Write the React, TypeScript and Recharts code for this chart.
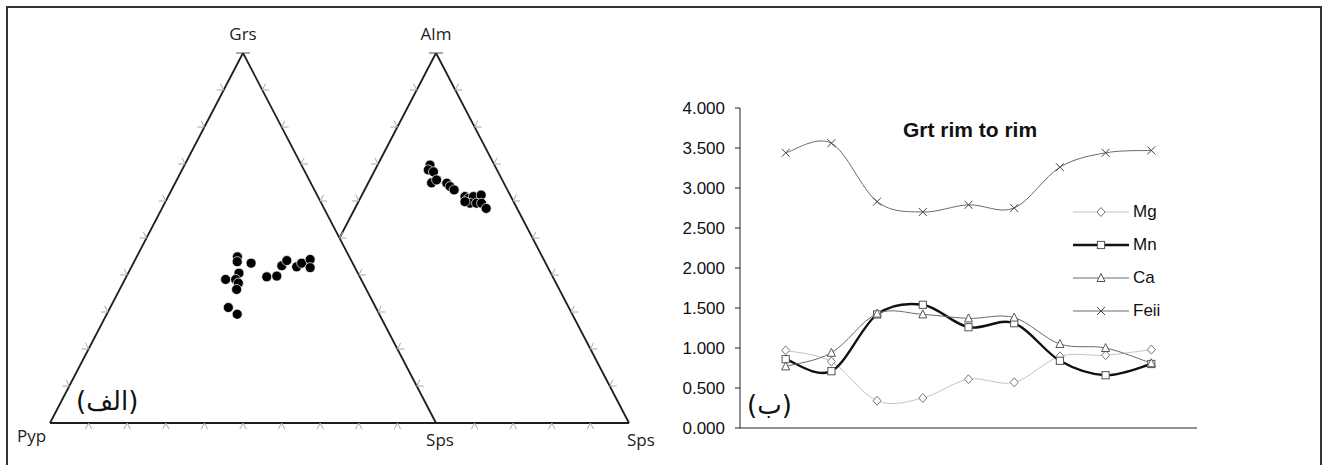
import React from 'react';
import {
  ScatterChart,
  Scatter,
  XAxis,
  YAxis,
  ReferenceLine,
  LineChart,
  Line,
} from 'recharts';

// left diagram: Grs (top) - Pyp (bottom left) - Sps (bottom right), mol %
const grsLeft = [44.9, 43.6, 43.2, 40.5, 38.8, 38.8, 37.8, 36.1, 31.2, 29.4, 39.5, 39.7, 42.5, 43.9, 42.2, 43.2, 44.2, 42.0];
const spsLeft = [26.1, 26.7, 30.5, 28.7, 26.1, 28.7, 29.9, 30.3, 30.6, 33.8, 36.4, 38.9, 38.8, 39.4, 42.8, 43.6, 45.3, 46.4];
const pypLeft = [29.0, 29.7, 26.3, 30.8, 35.1, 32.5, 32.3, 33.6, 38.2, 36.8, 24.1, 21.4, 18.7, 16.7, 15.0, 13.2, 10.5, 11.6];

// right diagram: Alm (top) - Sps (bottom right), third corner hidden
const almRight = [69.7, 68.4, 67.9, 64.9, 65.7, 64.8, 63.9, 63.0, 61.2, 60.7, 61.2, 61.6, 59.4, 59.4, 59.4, 58.0, 59.8];
const spsRight = [13.6, 13.8, 15.4, 16.4, 17.3, 20.4, 21.7, 23.2, 26.9, 28.1, 29.1, 30.9, 29.1, 30.8, 32.1, 34.0, 27.6];
const restRight = [16.7, 17.8, 16.7, 18.7, 17.0, 14.8, 14.4, 13.8, 11.9, 11.2, 9.7, 7.5, 11.5, 9.8, 8.5, 8.0, 12.6];

const tickFractions = [0.1, 0.2, 0.3, 0.4, 0.5, 0.6, 0.7, 0.8, 0.9];

// rim to rim profile
const spots = [1, 2, 3, 4, 5, 6, 7, 8, 9];
const mg = [0.97, 0.83, 0.34, 0.375, 0.61, 0.57, 0.895, 0.91, 0.98];
const mn = [0.86, 0.71, 1.42, 1.54, 1.26, 1.31, 0.84, 0.66, 0.8];
const ca = [0.77, 0.94, 1.43, 1.42, 1.37, 1.38, 1.05, 1.0, 0.81];
const feii = [3.44, 3.56, 2.83, 2.7, 2.79, 2.75, 3.26, 3.44, 3.47];
const yTicks = [0, 0.5, 1, 1.5, 2, 2.5, 3, 3.5, 4];
const xTicks = [0, 2, 4, 6, 8, 10];

const labelFont = '"Open Sans", "Liberation Sans", sans-serif';
const chartFont = '"Liberation Sans", Arial, sans-serif';

const leftPoints = grsLeft.map((g, i) => {
  const sum = g + spsLeft[i] + pypLeft[i];
  return { x: (spsLeft[i] + 0.5 * g) / sum, y: g / sum };
});

const rightPoints = almRight.map((a, i) => {
  const sum = a + spsRight[i] + restRight[i];
  return { x: 0.5 + (spsRight[i] + 0.5 * a) / sum, y: a / sum };
});

const tickMarks = [
  ...tickFractions.map((f) => ({ x: f, y: 0, kind: 'base' })),
  ...tickFractions.filter((f) => f > 0.5).map((f) => ({ x: 0.5 + f, y: 0, kind: 'base' })),
  ...tickFractions.map((f) => ({ x: 0.5 * f, y: f, kind: 'left' })),
  ...tickFractions.map((f) => ({ x: 1 - 0.5 * f, y: f, kind: 'right' })),
  ...tickFractions.filter((f) => f > 0.5).map((f) => ({ x: 0.5 + 0.5 * f, y: f, kind: 'left' })),
  ...tickFractions.map((f) => ({ x: 1.5 - 0.5 * f, y: f, kind: 'right' })),
  { x: 0.5, y: 1, kind: 'apex' },
  { x: 1, y: 1, kind: 'apex' },
];

const lineData = spots.map((s, i) => ({ spot: s, Mg: mg[i], Mn: mn[i], Ca: ca[i], Feii: feii[i] }));

// uniform Catmull-Rom, close to Excel's smoothed line
const smoothCurve = (context: any) => {
  let pts: number[][] = [];
  return {
    areaStart() {},
    areaEnd() {},
    lineStart() {
      pts = [];
    },
    point(x: number, y: number) {
      pts.push([+x, +y]);
    },
    lineEnd() {
      if (!pts.length) return;
      context.moveTo(pts[0][0], pts[0][1]);
      for (let i = 0; i < pts.length - 1; i++) {
        const p0 = pts[Math.max(i - 1, 0)];
        const p1 = pts[i];
        const p2 = pts[i + 1];
        const p3 = pts[Math.min(i + 2, pts.length - 1)];
        context.bezierCurveTo(
          p1[0] + (p2[0] - p0[0]) / 6,
          p1[1] + (p2[1] - p0[1]) / 6,
          p2[0] - (p3[0] - p1[0]) / 6,
          p2[1] - (p3[1] - p1[1]) / 6,
          p2[0],
          p2[1]
        );
      }
    },
  };
};

const TickMark = (props: any) => {
  const { cx, cy, payload } = props;
  const L = 7;
  const sx = 0.4625 * L;
  const sy = 0.8866 * L;
  let d = '';
  if (payload.kind === 'base') d = `M${cx - sx},${cy + sy}L${cx},${cy}L${cx + sx},${cy + sy}`;
  if (payload.kind === 'left') d = `M${cx - L},${cy}L${cx},${cy}L${cx - sx},${cy - sy}`;
  if (payload.kind === 'right') d = `M${cx + L},${cy}L${cx},${cy}L${cx + sx},${cy - sy}`;
  if (payload.kind === 'apex') d = `M${cx - L},${cy}L${cx + L},${cy}`;
  return <path d={d} fill="none" stroke={payload.kind === 'apex' ? '#555' : '#a8a8a8'} strokeWidth={1} />;
};

const Dot = (props: any) => {
  const { cx, cy } = props;
  return <circle cx={cx} cy={cy} r={5} fill="#000" stroke="#fff" strokeWidth={0.7} />;
};

const markerShape = (kind: string, cx: number, cy: number, color: string) => {
  if (kind === 'diamond')
    return <path d={`M${cx},${cy - 4.5}L${cx + 4},${cy}L${cx},${cy + 4.5}L${cx - 4},${cy}Z`} fill="#fff" stroke={color} strokeWidth={1} />;
  if (kind === 'square')
    return <rect x={cx - 3.6} y={cy - 3.6} width={7.2} height={7.2} fill="#fff" stroke={color} strokeWidth={1} />;
  if (kind === 'triangle')
    return <path d={`M${cx},${cy - 4.5}L${cx + 4},${cy + 3.5}L${cx - 4},${cy + 3.5}Z`} fill="#fff" stroke={color} strokeWidth={1} />;
  return (
    <path d={`M${cx - 4},${cy - 4}L${cx + 4},${cy + 4}M${cx + 4},${cy - 4}L${cx - 4},${cy + 4}`} stroke={color} strokeWidth={1} />
  );
};

const seriesStyle = [
  { key: 'Mg', marker: 'diamond', stroke: '#c4c4c4', width: 1, markerColor: '#777' },
  { key: 'Mn', marker: 'square', stroke: '#111', width: 2.4, markerColor: '#555' },
  { key: 'Ca', marker: 'triangle', stroke: '#6a6a6a', width: 1, markerColor: '#555' },
  { key: 'Feii', marker: 'cross', stroke: '#6a6a6a', width: 1, markerColor: '#444' },
];

const text = (style: React.CSSProperties): React.CSSProperties => ({
  position: 'absolute',
  whiteSpace: 'nowrap',
  lineHeight: 1,
  ...style,
});

export default function App() {
  return (
    <div style={{ position: 'absolute', left: 0, top: 0, width: 1324, height: 465, overflow: 'hidden', background: '#fff' }}>
      <div
        style={{
          position: 'absolute',
          left: 6,
          top: 6,
          width: 1312,
          height: 470,
          borderLeft: '2px solid #333',
          borderTop: '2px solid #333',
          borderRight: '2px solid #333',
        }}
      />

      <div style={{ position: 'absolute', left: 0, top: 0 }}>
        <ScatterChart width={660} height={465} margin={{ top: 0, right: 0, bottom: 0, left: 0 }}>
          <XAxis type="number" dataKey="x" hide domain={[-50 / 386, 610 / 386]} allowDataOverflow />
          <YAxis type="number" dataKey="y" hide domain={[-42 / 370, 423 / 370]} allowDataOverflow />
          <ReferenceLine segment={[{ x: 0, y: 0 }, { x: 1.5, y: 0 }]} stroke="#1e1e1e" strokeWidth={1.8} ifOverflow="visible" />
          <ReferenceLine segment={[{ x: 0, y: 0 }, { x: 0.5, y: 1 }]} stroke="#1e1e1e" strokeWidth={1.8} ifOverflow="visible" />
          <ReferenceLine segment={[{ x: 0.5, y: 1 }, { x: 1, y: 0 }]} stroke="#1e1e1e" strokeWidth={1.8} ifOverflow="visible" />
          <ReferenceLine segment={[{ x: 0.75, y: 0.5 }, { x: 1, y: 1 }]} stroke="#1e1e1e" strokeWidth={1.8} ifOverflow="visible" />
          <ReferenceLine segment={[{ x: 1, y: 1 }, { x: 1.5, y: 0 }]} stroke="#1e1e1e" strokeWidth={1.8} ifOverflow="visible" />
          <Scatter data={tickMarks} shape={TickMark} isAnimationActive={false} />
          <Scatter data={leftPoints} shape={Dot} isAnimationActive={false} />
          <Scatter data={rightPoints} shape={Dot} isAnimationActive={false} />
        </ScatterChart>
      </div>

      <div style={text({ left: 243, top: 25, transform: 'translateX(-50%)', fontFamily: labelFont, fontSize: 17, color: '#222' })}>Grs</div>
      <div style={text({ left: 436, top: 25, transform: 'translateX(-50%)', fontFamily: labelFont, fontSize: 17, color: '#222' })}>Alm</div>
      <div style={text({ left: 17, top: 427, fontFamily: labelFont, fontSize: 17, color: '#222' })}>Pyp</div>
      <div style={text({ left: 440, top: 431, transform: 'translateX(-50%)', fontFamily: labelFont, fontSize: 17, color: '#222' })}>Sps</div>
      <div style={text({ left: 627, top: 431, fontFamily: labelFont, fontSize: 17, color: '#222' })}>Sps</div>
      <div style={text({ left: 76, top: 388, fontFamily: '"DejaVu Sans", sans-serif', fontSize: 26, color: '#111' })}>(الف)</div>

      <div style={{ position: 'absolute', left: 660, top: 0 }}>
        <LineChart width={664} height={465} data={lineData} margin={{ top: 108, right: 127, bottom: 27, left: 20 }}>
          <XAxis
            dataKey="spot"
            type="number"
            domain={[0, 10]}
            ticks={xTicks}
            tick={false}
            tickSize={5}
            height={10}
            axisLine={{ stroke: '#222' }}
            tickLine={{ stroke: '#222' }}
          />
          <YAxis
            type="number"
            domain={[0, 4]}
            ticks={yTicks}
            interval={0}
            width={60}
            tickSize={5}
            tickMargin={10}
            tickFormatter={(v: number) => v.toFixed(3)}
            tick={{ fill: '#111', fontSize: 17, fontFamily: chartFont }}
            axisLine={{ stroke: '#222' }}
            tickLine={{ stroke: '#222' }}
          />
          {seriesStyle.map((s) => (
            <Line
              key={s.key}
              dataKey={s.key}
              type={smoothCurve as any}
              stroke={s.stroke}
              strokeWidth={s.width}
              dot={(p: any) => <g key={`${s.key}-${p.index}`}>{markerShape(s.marker, p.cx, p.cy, s.markerColor)}</g>}
              activeDot={false}
              isAnimationActive={false}
            />
          ))}
        </LineChart>
      </div>

      <div style={{ position: 'absolute', left: 1073, top: 195 }}>
        {seriesStyle.map((s) => (
          <div key={s.key} style={{ display: 'flex', alignItems: 'center', height: 33 }}>
            <svg width={56} height={14}>
              <line x1={0} y1={7} x2={56} y2={7} stroke={s.stroke} strokeWidth={s.width} />
              {markerShape(s.marker, 28, 7, s.markerColor)}
            </svg>
            <span style={{ marginLeft: 4, fontFamily: chartFont, fontSize: 17, color: '#111' }}>{s.key}</span>
          </div>
        ))}
      </div>

      <div style={text({ left: 970, top: 119, transform: 'translateX(-50%)', fontFamily: chartFont, fontWeight: 'bold', fontSize: 21, color: '#111' })}>
        Grt rim to rim
      </div>
      <div style={text({ left: 747, top: 392, fontFamily: '"DejaVu Sans", sans-serif', fontSize: 26, color: '#111' })}>(ب)</div>
    </div>
  );
}
